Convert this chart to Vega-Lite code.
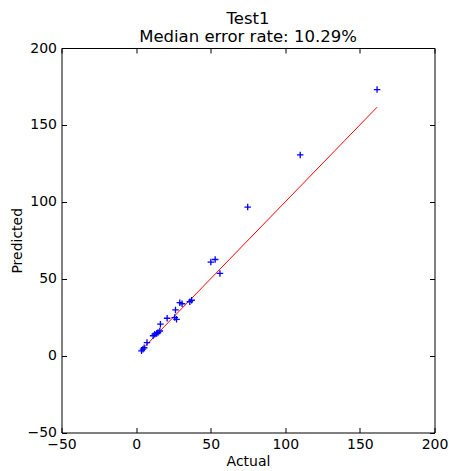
{
  "$schema": "https://vega.github.io/schema/vega-lite/v6.json",
  "width": 373,
  "height": 384.5,
  "padding": {"left": 10.5, "top": 10, "right": 15, "bottom": 5},
  "background": "white",
  "title": {
    "text": ["Test1", "Median error rate: 10.29%"],
    "font": "DejaVu Sans",
    "fontSize": 16.5,
    "fontWeight": "normal",
    "color": "black",
    "lineHeight": 18,
    "offset": -4
  },
  "config": {
    "font": "DejaVu Sans",
    "view": {"stroke": "black", "strokeWidth": 1},
    "axis": {
      "grid": false,
      "domain": false,
      "offset": -5,
      "tickColor": "black",
      "tickSize": 5,
      "tickWidth": 1,
      "labelColor": "black",
      "labelFont": "DejaVu Sans",
      "labelFontSize": 14,
      "labelFlush": false,
      "labelOverlap": false,
      "titleFont": "DejaVu Sans",
      "titleFontSize": 14,
      "titleFontWeight": "normal",
      "titleColor": "black",
      "labelPadding": 5
    }
  },
  "datasets": {
    "points": [
      {"actual": 3.6, "predicted": 3.1},
      {"actual": 4.6, "predicted": 4.2},
      {"actual": 5.4, "predicted": 5.1},
      {"actual": 7.3, "predicted": 8.5},
      {"actual": 11.4, "predicted": 12.9},
      {"actual": 12.5, "predicted": 13.9},
      {"actual": 13.8, "predicted": 14.3},
      {"actual": 14.7, "predicted": 15.0},
      {"actual": 15.9, "predicted": 16.0},
      {"actual": 16.3, "predicted": 20.4},
      {"actual": 20.8, "predicted": 24.3},
      {"actual": 26.4, "predicted": 29.7},
      {"actual": 25.9, "predicted": 24.7},
      {"actual": 27.1, "predicted": 23.6},
      {"actual": 29.3, "predicted": 34.4},
      {"actual": 30.8, "predicted": 33.7},
      {"actual": 36.0, "predicted": 35.0},
      {"actual": 37.2, "predicted": 36.0},
      {"actual": 50.1, "predicted": 60.8},
      {"actual": 53.0, "predicted": 62.5},
      {"actual": 56.2, "predicted": 53.4},
      {"actual": 74.8, "predicted": 96.6},
      {"actual": 110.0, "predicted": 130.5},
      {"actual": 161.5, "predicted": 173.0}
    ],
    "ideal": [
      {"actual": 3.3, "predicted": 3.3},
      {"actual": 161.5, "predicted": 161.5}
    ]
  },
  "layer": [
    {
      "data": {"name": "ideal"},
      "mark": {"type": "line", "color": "#ff0000", "strokeWidth": 1},
      "encoding": {
        "x": {"field": "actual", "type": "quantitative", "scale": {"domain": [-50, 200], "nice": false, "zero": false},
              "axis": {"orient": "top", "labels": false, "title": null, "values": [-50, 0, 50, 100, 150, 200]}},
        "y": {"field": "predicted", "type": "quantitative", "scale": {"domain": [-50, 200], "nice": false, "zero": false},
              "axis": {"orient": "right", "labels": false, "title": null, "values": [-50, 0, 50, 100, 150, 200]}}
      }
    },
    {
      "data": {"name": "points"},
      "mark": {"type": "point", "shape": "M-1,0L1,0M0,-1L0,1", "filled": false, "color": "#0000ff", "strokeWidth": 1.3, "size": 42, "opacity": 1},
      "encoding": {
        "x": {"field": "actual", "type": "quantitative", "scale": {"domain": [-50, 200], "nice": false, "zero": false},
              "axis": {"orient": "bottom", "title": "Actual", "values": [-50, 0, 50, 100, 150, 200], "titlePadding": 3}},
        "y": {"field": "predicted", "type": "quantitative", "scale": {"domain": [-50, 200], "nice": false, "zero": false},
              "axis": {"orient": "left", "title": "Predicted", "values": [-50, 0, 50, 100, 150, 200], "titlePadding": 2}}
      }
    }
  ],
  "resolve": {"axis": {"x": "independent", "y": "independent"}}
}
